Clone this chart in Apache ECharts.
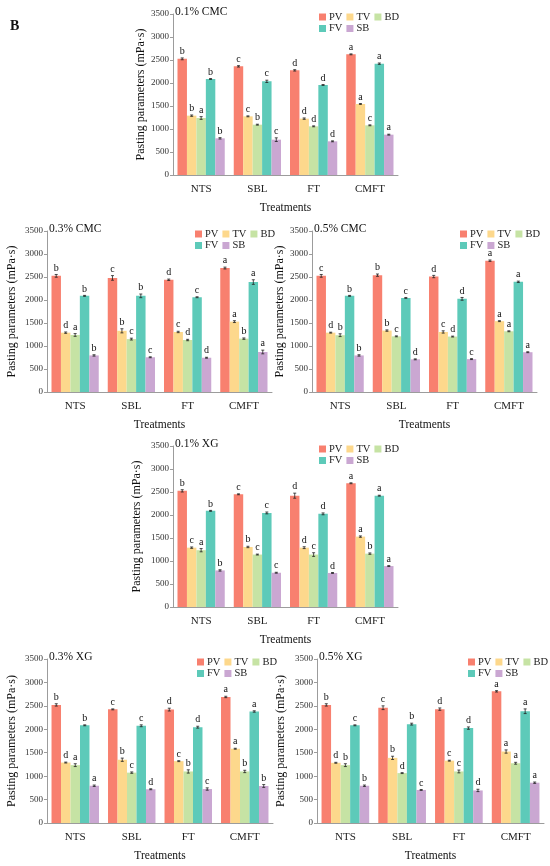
<!DOCTYPE html>
<html>
<head>
<meta charset="utf-8">
<script src="https://cdn.jsdelivr.net/npm/echarts@6/dist/echarts.min.js"></script>
<style>
  html, body { margin: 0; padding: 0; background: #fff; }
  #main { width: 550px; height: 866px; }
</style>
</head>
<body>
<div id="main"></div>
<script>
// 类别与系列
const categories = ['NTS', 'SBL', 'FT', 'CMFT'];
const seriesNames = ['PV', 'TV', 'BD', 'FV', 'SB'];
const panelTitles = ['0.1% CMC', '0.3% CMC', '0.5% CMC', '0.1% XG', '0.3% XG', '0.5% XG'];

// 每个面板: 行 = PV, TV, BD, FV, SB; 列 = NTS, SBL, FT, CMFT
const cmc01Values = [[2525, 2362, 2275, 2623], [1290, 1275, 1225, 1544], [1239, 1094, 1058, 1080], [2087, 2036, 1957, 2420], [797, 768, 732, 877]];
const cmc03Values = [[2525, 2480, 2440, 2695], [1290, 1330, 1305, 1530], [1240, 1150, 1130, 1160], [2090, 2090, 2060, 2390], [795, 755, 745, 870]];
const cmc05Values = [[2525, 2540, 2510, 2855], [1290, 1335, 1305, 1540], [1235, 1210, 1205, 1320], [2090, 2045, 2025, 2395], [795, 710, 715, 865]];
const xg01Values = [[2525, 2450, 2420, 2690], [1290, 1305, 1290, 1530], [1235, 1140, 1140, 1160], [2090, 2045, 2025, 2420], [795, 745, 740, 890]];
const xg03Values = [[2520, 2425, 2420, 2690], [1290, 1350, 1320, 1585], [1235, 1075, 1100, 1100], [2085, 2075, 2045, 2380], [795, 720, 725, 790]];
const xg05Values = [[2520, 2460, 2430, 2810], [1285, 1390, 1330, 1525], [1235, 1065, 1100, 1275], [2085, 2110, 2025, 2385], [795, 705, 695, 860]];

const cmc01Letters = [['b', 'c', 'd', 'a'], ['b', 'c', 'd', 'a'], ['a', 'b', 'd', 'c'], ['b', 'c', 'd', 'a'], ['b', 'c', 'd', 'a']];
const cmc03Letters = [['b', 'c', 'd', 'a'], ['d', 'b', 'c', 'a'], ['a', 'c', 'd', 'b'], ['b', 'b', 'c', 'a'], ['b', 'c', 'd', 'a']];
const cmc05Letters = [['c', 'b', 'd', 'a'], ['d', 'b', 'c', 'a'], ['b', 'c', 'd', 'a'], ['b', 'c', 'd', 'a'], ['b', 'd', 'c', 'a']];
const xg01Letters = [['b', 'c', 'd', 'a'], ['c', 'b', 'd', 'a'], ['a', 'c', 'c', 'b'], ['b', 'c', 'd', 'a'], ['b', 'c', 'd', 'a']];
const xg03Letters = [['b', 'c', 'd', 'a'], ['d', 'b', 'c', 'a'], ['a', 'c', 'b', 'b'], ['b', 'c', 'd', 'a'], ['a', 'd', 'c', 'b']];
const xg05Letters = [['b', 'c', 'd', 'a'], ['d', 'b', 'c', 'a'], ['b', 'd', 'c', 'a'], ['c', 'b', 'd', 'a'], ['b', 'c', 'd', 'a']];

// 误差 (标准差)
const cmc01Errors = [[20, 15, 15, 10], [15, 10, 15, 10], [30, 10, 10, 10], [10, 25, 10, 15], [15, 40, 10, 10]];
const cmc03Errors = [[30, 50, 15, 20], [15, 45, 15, 20], [30, 20, 15, 15], [10, 40, 10, 50], [15, 10, 10, 40]];
const cmc05Errors = [[30, 25, 25, 15], [10, 15, 25, 10], [30, 10, 10, 10], [10, 10, 30, 15], [15, 10, 10, 10]];
const xg01Errors = [[25, 10, 55, 10], [15, 15, 20, 15], [35, 10, 40, 15], [10, 20, 20, 10], [15, 10, 10, 10]];
const xg03Errors = [[25, 10, 30, 15], [10, 35, 10, 10], [30, 15, 35, 25], [10, 20, 20, 15], [15, 10, 25, 30]];
const xg05Errors = [[25, 40, 25, 15], [10, 35, 10, 35], [30, 10, 30, 20], [10, 20, 25, 50], [15, 10, 25, 15]];

const yTicks = { min: 0, max: 3500, interval: 500 };

const panelValues = [cmc01Values, cmc03Values, cmc05Values, xg01Values, xg03Values, xg05Values];
const panelLetters = [cmc01Letters, cmc03Letters, cmc05Letters, xg01Letters, xg03Letters, xg05Letters];
const panelErrors = [cmc01Errors, cmc03Errors, cmc05Errors, xg01Errors, xg03Errors, xg05Errors];

const colors = ['#F8806F', '#FDD88C', '#C6E3A4', '#5DCAB9', '#CAA7D2'];
const font = 'Liberation Serif, Times New Roman, serif';
const axisColor = '#9c9c9c';
const gapRatio = 0.16;

// 各面板位置
const layout = [
    { left: 173, top: 14, width: 225, height: 161, nameGap: 26, legendX: 146 },
    { left: 47, top: 231, width: 225, height: 161, nameGap: 29, legendX: 148 },
    { left: 312, top: 231, width: 225, height: 161, nameGap: 26, legendX: 148 },
    { left: 173, top: 446, width: 225, height: 161, nameGap: 30, legendX: 146 },
    { left: 47, top: 659, width: 226, height: 164, nameGap: 29, legendX: 150 },
    { left: 317, top: 659, width: 227, height: 164, nameGap: 30, legendX: 151 }
];

let myChart = echarts.init(document.getElementById('main'), null, { renderer: 'canvas' });

let grids = [], xAxes = [], yAxes = [], series = [], titles = [], legends = [];

titles.push({
    text: 'B', left: 10, top: 19, padding: 0,
    textStyle: { fontFamily: font, fontSize: 14, fontWeight: 'bold', color: '#111' }
});

const legendBase = {
    width: 120, padding: 0, icon: 'rect', itemWidth: 7, itemHeight: 7, itemGap: 4,
    textStyle: { fontFamily: font, fontSize: 10.5, color: '#222', padding: [0, 0, 0, -2] }
};

layout.forEach((g, p) => {
    grids.push({ left: g.left, top: g.top, width: g.width, height: g.height });
    titles.push({
        text: panelTitles[p], left: g.left + 2, top: g.top - 8, padding: 0,
        textStyle: { fontFamily: font, fontSize: 11.5, fontWeight: 'normal', color: '#111' }
    });
    legends.push(Object.assign({}, legendBase, {
        data: ['PV', 'TV', 'BD'], left: g.left + g.legendX, top: g.top - 2.5
    }));
    legends.push(Object.assign({}, legendBase, {
        data: ['FV', 'SB'], left: g.left + g.legendX, top: g.top + 9
    }));
    xAxes.push({
        gridIndex: p, type: 'category', data: categories,
        name: 'Treatments', nameLocation: 'middle', nameGap: 27,
        nameTextStyle: { fontFamily: font, fontSize: 11.5, color: '#111' },
        axisLine: { lineStyle: { color: axisColor } },
        axisTick: { length: 4, lineStyle: { color: axisColor } },
        axisLabel: { fontFamily: font, fontSize: 11, color: '#222', margin: 9 }
    });
    yAxes.push({
        gridIndex: p, type: 'value', min: yTicks.min, max: yTicks.max, interval: yTicks.interval,
        name: 'Pasting parameters (mPa·s)', nameLocation: 'middle', nameGap: g.nameGap,
        nameTextStyle: { fontFamily: font, fontSize: 12, color: '#111' },
        axisLine: { show: true, lineStyle: { color: axisColor } },
        axisTick: { show: true, length: 3, lineStyle: { color: axisColor } },
        axisLabel: { fontFamily: font, fontSize: 9, color: '#333', margin: 4, formatter: (v) => String(v) },
        splitLine: { show: false }
    });

    const values = panelValues[p], letters = panelLetters[p], errors = panelErrors[p];
    const pxPerUnit = g.height / (yTicks.max - yTicks.min);
    seriesNames.forEach((name, s) => {
        series.push({
            type: 'bar', name: name, xAxisIndex: p, yAxisIndex: p,
            barGap: '0%', barCategoryGap: (gapRatio * 100) + '%',
            itemStyle: { color: colors[s] },
            data: values[s].map((v, i) => ({
                value: v,
                label: { distance: 1.5 + errors[s][i] * pxPerUnit }
            })),
            label: {
                show: true, position: 'top',
                fontFamily: font, fontSize: 10, color: '#111',
                formatter: (params) => letters[s][params.dataIndex]
            }
        });
    });

    // 误差线
    let errData = [];
    seriesNames.forEach((name, s) => {
        values[s].forEach((v, i) => errData.push([i, s, v, errors[s][i]]));
    });
    series.push({
        type: 'custom', xAxisIndex: p, yAxisIndex: p, silent: true, z: 5,
        data: errData, encode: { x: 0, y: 2 },
        renderItem: (params, api) => {
            const cat = api.value(0), s = api.value(1), v = api.value(2), e = api.value(3);
            const band = api.size([1, 0])[0];
            const bw = band * (1 - gapRatio) / seriesNames.length;
            const x = api.coord([cat, v])[0] + (s - 2) * bw;
            const yTop = api.coord([cat, v + e])[1];
            const yBot = api.coord([cat, v - e])[1];
            const st = { stroke: '#222', lineWidth: 0.8 };
            return {
                type: 'group',
                children: [
                    { type: 'line', shape: { x1: x, y1: yTop, x2: x, y2: yBot }, style: st },
                    { type: 'line', shape: { x1: x - 1.5, y1: yTop, x2: x + 1.5, y2: yTop }, style: st },
                    { type: 'line', shape: { x1: x - 1.5, y1: yBot, x2: x + 1.5, y2: yBot }, style: st }
                ]
            };
        }
    });
});

myChart.setOption({
    backgroundColor: '#fff',
    animation: false,
    title: titles,
    legend: legends,
    grid: grids,
    xAxis: xAxes,
    yAxis: yAxes,
    series: series
});
</script>
</body>
</html>
